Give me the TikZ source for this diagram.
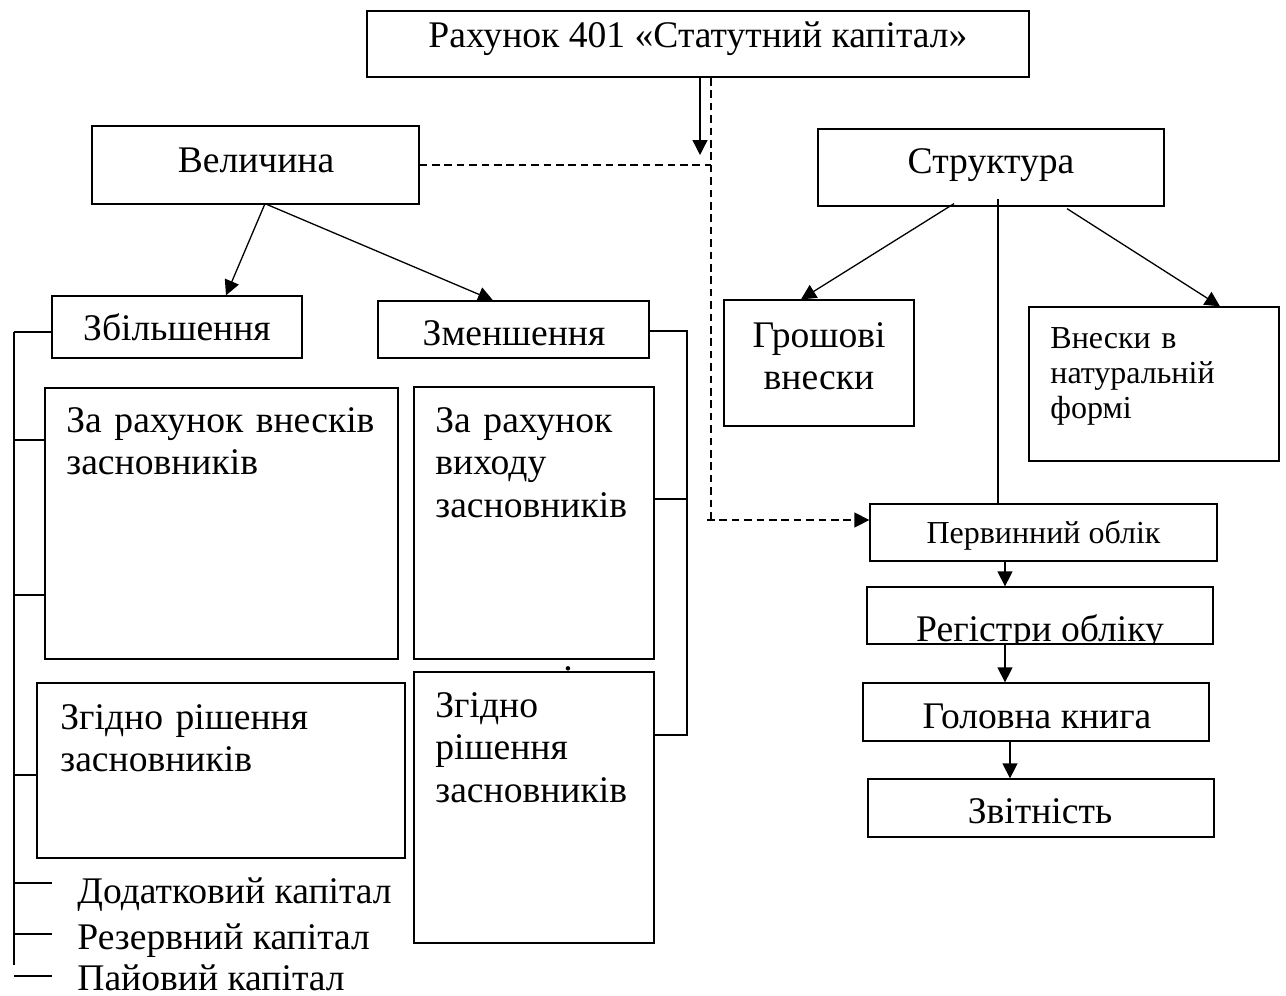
\documentclass[tikz,border=0pt]{standalone}
\usepackage{fontspec}
\setmainfont{Liberation Serif}
\usetikzlibrary{arrows.meta, calc}
\tikzset{
	blk/.style={rectangle, draw, line width=0.65pt, inner sep=0pt},
	big/.style={font=\fontsize{18.8}{21.4}\selectfont, inner sep=0pt},
	sml/.style={font=\fontsize{16}{17.5}\selectfont, inner sep=0pt},
	arr/.style={-{Triangle[length=7.5pt, width=7.5pt]}, line width=0.65pt},
	dsh/.style={dash pattern=on 3.8pt off 2.4pt, line width=0.65pt},
	brk/.style={line width=0.7pt},
}

\begin{document}
\begin{tikzpicture}[x=0.5pt, y=-0.5pt]
	\useasboundingbox (0,0) rectangle (1286,996);
	% boxes
	\node[blk, line width=1pt, minimum width=331pt, minimum height=33pt] (acc) at (698,44) {};
	\node[blk, minimum width=163.5pt, minimum height=39pt] (vel) at (255.5,165) {};
	\node[blk, minimum width=125pt, minimum height=31pt] (inc) at (177,327) {};
	\node[blk, minimum width=135.5pt, minimum height=28.5pt] (dec) at (513.5,329.5) {};
	\node[blk, minimum width=176.5pt, minimum height=135.5pt] (incA) at (221.5,523.5) {};
	\node[blk, minimum width=184pt, minimum height=87.5pt] (incB) at (221,770.5) {};
	\node[blk, minimum width=120pt, minimum height=136pt] (decA) at (534,523) {};
	\node[blk, minimum width=120pt, minimum height=135.5pt] (decB) at (534,807.5) {};
	\node[blk, minimum width=173pt, minimum height=38.5pt] (str) at (991,167.5) {};
	\node[blk, minimum width=95pt, minimum height=63pt] (cash) at (819,363) {};
	\node[blk, minimum width=125pt, minimum height=77pt] (kind) at (1154,384) {};
	\node[blk, minimum width=173.5pt, minimum height=28.5pt] (prim) at (1043.5,532.5) {};
	\node[blk, minimum width=173pt, minimum height=28.5pt] (reg) at (1040,615.5) {};
	\node[blk, minimum width=173pt, minimum height=29pt] (led) at (1036,712) {};
	\node[blk, minimum width=173pt, minimum height=29pt] (rep) at (1041,808) {};

	% texts
	\node[big, anchor=base] (accT) at (698,47) {Рахунок 401 «Статутний капітал»};
	\node[big, anchor=base] (velT) at (256,172) {Величина};
	\node[big, anchor=base] (incT) at (177,340) {Збільшення};
	\node[big, anchor=base] (decT) at (514,345) {Зменшення};
	\node[big, anchor=base west, align=left, text width=172pt] (incAT) at (66,432) {За рахунок внесків\\засновників};
	\node[big, anchor=base west, align=left, text width=172pt] (incBT) at (60,729) {Згідно рішення\\засновників};
	\node[big, anchor=base west, align=left, text width=112pt] (decAT) at (435,432) {За рахунок\\виходу\\засновників};
	\node[big, anchor=base west, align=left, text width=112pt] (decBT) at (435,717) {Згідно\\рішення\\засновників};
	\node[big, anchor=base] (dot) at (568,670) {.};
	\node[big, anchor=base] (strT) at (991,173) {Структура};
	\node[big, anchor=base, align=center, text width=92pt] (cashT) at (819,347) {Грошові\\внески};
	\node[sml, anchor=base west, align=left, text width=115pt] (kindT) at (1050,348) {Внески в\\натуральній\\формі};
	\node[sml, anchor=base] (primT) at (1043.5,543) {Первинний облік};
	\begin{scope}
		\clip (reg.north west) rectangle (reg.south east);
		\node[big, anchor=base] (regT) at (1040,641) {Регістри обліку};
	\end{scope}
	\node[big, anchor=base] (ledT) at (1037,728) {Головна книга};
	\node[big, anchor=base] (repT) at (1040,823) {Звітність};
	\node[big, anchor=base west] (add) at (77,903) {Додатковий капітал};
	\node[big, anchor=base west] (res) at (77,949) {Резервний капітал};
	\node[big, anchor=base west] (shr) at (77,990) {Пайовий капітал};

	% links from the account
	\coordinate (tip) at (700,155);
	\coordinate (jn) at (711,520);
	\draw[arr] (acc.south -| tip) -- (tip);
	\draw[dsh] (acc.south -| jn) -- (jn);
	\draw[dsh, arr] ($(jn)+(-4,0)$) -- (jn -| prim.west);
	\draw[dsh] (vel.east) -- (vel.east -| jn);

	% size branch
	\draw[arr] ($(vel.south)+(9.5,-1)$) -- ($(inc.north)+(49,0)$);
	\draw[arr] ($(vel.south)+(9.5,-1)$) -- ($(dec.north)+(-20.5,0)$);

	% left bracket
	\coordinate (lb) at (14,332);
	\coordinate (le) at (14,965);
	\draw[brk] (lb) -- (le);
	\draw[brk] (lb) -- (lb -| inc.west);
	\foreach \yy in {440,595}
		\draw[brk] (lb |- 0,\yy) -- (incA.west |- 0,\yy);
	\draw[brk] (lb |- 0,775) -- (incB.west |- 0,775);
	\draw[brk, shorten >=12.5pt] (lb |- 0,883) -- (add.west |- 0,883);
	\draw[brk, shorten >=12.5pt] (lb |- 0,934) -- (res.west |- 0,934);
	\draw[brk, shorten >=12.5pt] (lb |- 0,976) -- (shr.west |- 0,976);

	% right bracket
	\coordinate (rb) at (687,331);
	\coordinate (rbe) at (687,735);
	\draw[brk] (dec.east |- rb) -- (rb) -- (rbe) -- (rbe -| decB.east);
	\draw[brk] (decA.east |- 0,499) -- (rb |- 0,499);

	% structure branch
	\draw[arr] ($(str.south)+(-37,-3)$) -- ($(cash.north)+(-18,0)$);
	\draw[arr] ($(str.south)+(76,2)$) -- ($(kind.north)+(66,0)$);
	\draw[brk] ($(str.south)+(7,-8)$) -- ($(prim.north)+(-45.5,0)$);

	% accounting chain
	\coordinate (cx1) at (1005,0);
	\coordinate (cx2) at (1010,0);
	\draw[arr] (prim.south -| cx1) -- (reg.north -| cx1);
	\draw[arr] (reg.south -| cx1) -- (led.north -| cx1);
	\draw[arr] (led.south -| cx2) -- (rep.north -| cx2);
\end{tikzpicture}
\end{document}
